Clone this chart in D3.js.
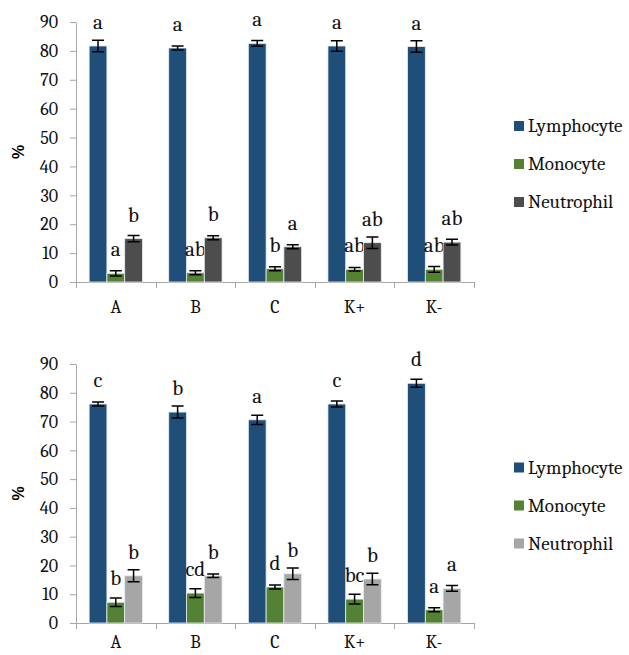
<!DOCTYPE html>
<html>
<head>
<meta charset="utf-8">
<script src="https://cdn.jsdelivr.net/npm/d3@7"></script>
<style>
  body { margin: 0; background: #fff; }
  .domain, .tick line { stroke: #a6a6a6; }
</style>
</head>
<body>
<div id="svgdiv"></div>
<script>
// data
var groups = ["A", "B", "C", "K+", "K-"];
var seriesNames = ["Lymphocyte", "Monocyte", "Neutrophil"];
var yTicks = [0, 10, 20, 30, 40, 50, 60, 70, 80, 90];

// top panel
var lymphTop = [81.7, 81.0, 82.6, 81.7, 81.5];
var lymphTopErr = [2.0, 0.7, 1.0, 1.8, 2.0];
var monoTop = [3.0, 3.2, 4.6, 4.4, 4.4];
var monoTopErr = [0.9, 0.7, 0.7, 0.6, 1.0];
var neutTop = [15.0, 15.3, 12.2, 13.6, 13.8];
var neutTopErr = [1.1, 0.7, 0.7, 2.0, 1.0];
var lymphTopLbl = ["a", "a", "a", "a", "a"];
var monoTopLbl = ["a", "ab", "b", "ab", "ab"];
var neutTopLbl = ["b", "b", "a", "ab", "ab"];

// bottom panel
var lymphBot = [76.1, 73.3, 70.6, 76.1, 83.3];
var lymphBotErr = [0.7, 2.1, 1.6, 1.0, 1.4];
var monoBot = [7.2, 10.4, 12.5, 8.3, 4.6];
var monoBotErr = [1.5, 1.5, 0.7, 1.7, 0.7];
var neutBot = [16.4, 16.4, 17.1, 15.3, 12.0];
var neutBotErr = [2.1, 0.6, 2.0, 2.0, 1.0];
var lymphBotLbl = ["c", "b", "a", "c", "d"];
var monoBotLbl = ["b", "cd", "d", "bc", "a"];
var neutBotLbl = ["b", "b", "b", "b", "a"];

// one family name only, the renderer does not like fallback lists
var serif = "Cambria";

var svgWidth = 629;
var svgHeight = 655;

var svg = d3.select("#svgdiv")
    .append("svg")
    .attr("width", svgWidth)
    .attr("height", svgHeight);

function drawPanel(top, bottom, catPad, vals, errs, lbls, colors) {
    var left = 76, right = 474;

    var x0 = d3.scaleBand()
        .domain(groups)
        .range([left, right])
        .paddingInner(0.33)
        .paddingOuter(0.165);

    var x1 = d3.scaleBand()
        .domain(seriesNames)
        .range([0, x0.bandwidth()]);

    var y = d3.scaleLinear()
        .domain([0, 90])
        .range([bottom, top]);

    // y axis
    var yAxis = svg.append("g")
        .attr("transform", `translate(${left}, 0)`)
        .call(d3.axisLeft(y).tickValues(yTicks).tickSize(6).tickPadding(12).tickSizeOuter(0));
    yAxis.attr("font-family", serif);
    yAxis.selectAll("text").style("font-family", serif).style("font-size", "18px").attr("fill", "#111");

    // x axis, ticks sit between the groups
    var xAxis = svg.append("g")
        .attr("transform", `translate(0, ${bottom})`)
        .call(d3.axisBottom(x0).tickSize(0).tickPadding(catPad).tickSizeOuter(0));
    xAxis.attr("font-family", serif);
    xAxis.selectAll("text").style("font-family", serif).style("font-size", "18px").attr("fill", "#111");
    xAxis.select(".domain").attr("d", `M${left},0.5H${right}`);
    d3.range(groups.length + 1).forEach(function(i) {
        var bx = Math.round(left + i * x0.step()) + 0.5;
        xAxis.append("line")
            .attr("x1", bx).attr("x2", bx)
            .attr("y1", 0).attr("y2", 6)
            .attr("stroke", "#a6a6a6");
    });

    // bars
    seriesNames.forEach(function(s, si) {
        var rows = groups.map(function(gname, gi) {
            return {g: gname, v: vals[si][gi], e: errs[si][gi], l: lbls[si][gi]};
        });
        var grp = svg.append("g");
        grp.selectAll("rect")
            .data(rows)
            .enter()
            .append("rect")
                .attr("x", d => x0(d.g) + x1(s))
                .attr("y", d => y(d.v))
                .attr("width", x1.bandwidth())
                .attr("height", d => y(0) - y(d.v))
                .attr("fill", colors[si])
                .attr("stroke", "#e8edf3")
                .attr("stroke-width", 0.8);

        // error bars
        var cap = 6;
        rows.forEach(function(d) {
            var cx = x0(d.g) + x1(s) + x1.bandwidth() / 2;
            grp.append("path")
                .attr("d", `M${cx},${y(d.v + d.e)}V${y(d.v - d.e)}` +
                    `M${cx - cap},${y(d.v + d.e)}H${cx + cap}` +
                    `M${cx - cap},${y(d.v - d.e)}H${cx + cap}`)
                .attr("stroke", "#000")
                .attr("stroke-width", 1.5)
                .attr("fill", "none");
        });

        // letters
        grp.selectAll("text")
            .data(rows)
            .enter()
            .append("text")
                .attr("x", d => x0(d.g) + x1(s) + x1.bandwidth() / 2)
                .attr("y", d => y(d.v) - 17)
                .attr("text-anchor", "middle")
                .attr("fill", "#111")
                .style("font-family", serif)
                .style("font-size", "21px")
                .text(d => d.l);
    });

    // % label
    svg.append("text")
        .attr("transform", `translate(24, ${(top + bottom) / 2}) rotate(-90)`)
        .attr("text-anchor", "middle")
        .style("font-family", "Liberation Sans")
        .style("font-weight", "bold")
        .style("font-size", "16px")
        .text("%");

    // legend
    var legY = (top + bottom) / 2 - 26;
    seriesNames.forEach(function(s, si) {
        var ly = legY + si * 38;
        svg.append("rect")
            .attr("x", 514).attr("y", ly - 5)
            .attr("width", 10).attr("height", 10)
            .attr("fill", colors[si]);
        svg.append("text")
            .attr("x", 528).attr("y", ly + 6)
            .attr("fill", "#111")
            .style("font-family", serif)
            .style("font-size", "19px")
            .text(s);
    });
}

drawPanel(22, 282, 18,
    [lymphTop, monoTop, neutTop],
    [lymphTopErr, monoTopErr, neutTopErr],
    [lymphTopLbl, monoTopLbl, neutTopLbl],
    ["#1f4e79", "#548235", "#4d4d4d"]);

drawPanel(364, 623, 12,
    [lymphBot, monoBot, neutBot],
    [lymphBotErr, monoBotErr, neutBotErr],
    [lymphBotLbl, monoBotLbl, neutBotLbl],
    ["#1f4e79", "#548235", "#a6a6a6"]);
</script>
</body>
</html>
